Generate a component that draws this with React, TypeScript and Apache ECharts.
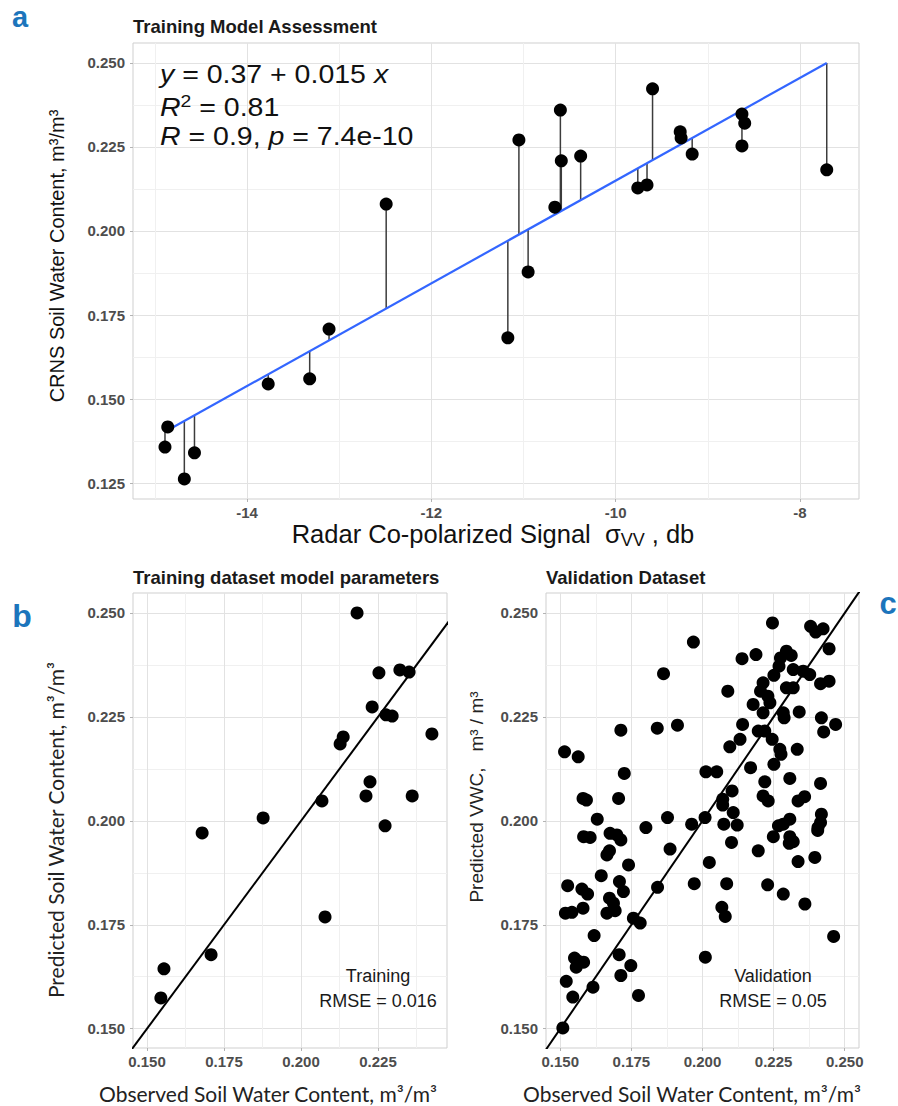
import React, { useEffect, useRef } from "react";
import * as echarts from "echarts";

// ---------- Panel a: training model assessment ----------
const radarSignal = [
  -14.86, -14.89, -14.68, -14.57, -13.77, -13.32, -13.11, -12.49, -11.17, -10.95,
  -11.05, -10.6, -10.59, -10.66, -10.38, -9.6, -9.76, -9.66, -9.3, -9.29,
  -9.17, -8.63, -8.6, -8.63, -7.71,
];
const crnsSwc = [
  0.1417, 0.1357, 0.1262, 0.134, 0.1545, 0.156, 0.1708, 0.208, 0.1682, 0.1878,
  0.2271, 0.236, 0.2209, 0.2071, 0.2223, 0.2423, 0.2128, 0.2137, 0.2295, 0.2277,
  0.2229, 0.2348, 0.2321, 0.2253, 0.2182,
];
const fitIntercept = 0.3679;
const fitSlope = 0.01529;

// ---------- Panel b: training dataset ----------
const trainObserved = [
  0.2182, 0.2253, 0.2321, 0.2351, 0.2231, 0.2276, 0.2296, 0.2137, 0.2127, 0.2425,
  0.2224, 0.2211, 0.2361, 0.2068, 0.1877, 0.2273, 0.1679, 0.2078, 0.1708, 0.1555,
  0.1545,
];
const trainPredicted = [
  0.25, 0.2356, 0.2363, 0.2358, 0.2274, 0.2255, 0.2252, 0.2202, 0.2185, 0.2209,
  0.2094, 0.206, 0.206, 0.2048, 0.2007, 0.1988, 0.1971, 0.1769, 0.1678, 0.1644,
  0.1574,
];

// ---------- Panel c: validation dataset ----------
const validObserved = [
  0.1515, 0.1563, 0.1713, 0.1725, 0.158, 0.1592, 0.1705, 0.163, 0.1801, 0.1877,
  0.1863, 0.1841, 0.1912, 0.1968, 0.1962, 0.2009, 0.2012, 0.205, 0.2071, 0.2071,
  0.2075, 0.2104, 0.2108, 0.2122, 0.2089, 0.2096, 0.2132, 0.2141, 0.2139, 0.2188,
  0.2169, 0.2178, 0.2204, 0.2213, 0.2196, 0.2219, 0.2213, 0.2237, 0.2246, 0.2251,
  0.2269, 0.2274, 0.2295, 0.2312, 0.2245, 0.2272, 0.2251, 0.2219, 0.2213, 0.2231,
  0.2284, 0.2287, 0.2295, 0.2319, 0.2319, 0.2354, 0.2377, 0.234, 0.2333, 0.2307,
  0.2336, 0.2359, 0.238, 0.2398, 0.2424, 0.2445, 0.2415, 0.2445, 0.2418, 0.2426,
  0.2468, 0.2415, 0.2418, 0.2415, 0.2267, 0.2307, 0.2284, 0.2406, 0.2276, 0.223,
  0.2405,
  0.1582, 0.1605, 0.1675, 0.1699, 0.1713, 0.2249, 0.2307, 0.2319, 0.2305, 0.2102,
  0.1664, 0.1673, 0.174, 0.1886, 0.2024, 0.2196, 0.2336, 0.2395, 0.1644, 0.1526,
  0.1576, 0.1596, 0.1708, 0.1722, 0.1842, 0.1971, 0.2085, 0.2229, 0.2284, 0.236,
  0.1518, 0.1541, 0.158, 0.1673, 0.1687, 0.1664, 0.1693, 0.2068, 0.208, 0.1757,
  0.1781, 0.1619, 0.2461, 0.155, 0.1564, 0.1582, 0.1556, 0.1707, 0.1748, 0.1713,
  0.201, 0.1521, 0.1615, 0.1544, 0.1775, 0.1509,
];
const validPredicted = [
  0.2166, 0.2154, 0.2218, 0.2114, 0.2054, 0.205, 0.2054, 0.2004, 0.1984, 0.2008,
  0.2354, 0.2223, 0.223, 0.243, 0.1992, 0.2008, 0.2118, 0.2118, 0.2052, 0.2038,
  0.1992, 0.2072, 0.202, 0.199, 0.2312, 0.2178, 0.2196, 0.2232, 0.239, 0.24,
  0.2128, 0.228, 0.2312, 0.2332, 0.2216, 0.2216, 0.226, 0.2284, 0.2476, 0.235,
  0.2372, 0.2392, 0.2408, 0.2398, 0.2196, 0.2172, 0.2136, 0.2094, 0.206, 0.2048,
  0.226, 0.2248, 0.232, 0.232, 0.2364, 0.236, 0.2352, 0.2262, 0.2172, 0.2102,
  0.2048, 0.2058, 0.2468, 0.2454, 0.2462, 0.2414, 0.233, 0.2336, 0.2248, 0.2214,
  0.2232, 0.209, 0.2016, 0.1996, 0.1988, 0.2004, 0.1992, 0.1984, 0.216, 0.23,
  0.1977,
  0.1962, 0.196, 0.197, 0.1966, 0.1954, 0.1962, 0.1962, 0.195, 0.1946, 0.1948,
  0.1918, 0.1928, 0.1894, 0.1932, 0.19, 0.1928, 0.1902, 0.1912, 0.1868, 0.1844,
  0.1836, 0.1824, 0.1854, 0.183, 0.184, 0.1849, 0.1849, 0.1846, 0.1824, 0.18,
  0.1778, 0.178, 0.179, 0.1814, 0.1802, 0.1778, 0.1784, 0.1792, 0.177, 0.1766,
  0.1754, 0.1724, 0.1722, 0.167, 0.1662, 0.166, 0.1648, 0.1678, 0.1652, 0.1628,
  0.1672, 0.1614, 0.16, 0.1576, 0.158, 0.1502,
];

// ---------- Axis ranges and ticks ----------
const aXRange = [-15.237, -7.36];
const aYRange = [0.12024, 0.25595];
const aXMajor = [-14, -12, -10, -8];
const aXMinor = [-15, -13, -11, -9];
const aYMajor = [0.125, 0.15, 0.175, 0.2, 0.225, 0.25];
const aYMinor = [0.1375, 0.1625, 0.1875, 0.2125, 0.2375];

const bXRange = [0.14545, 0.2474];
const cXRange = [0.14498, 0.25502];
const bcYRange = [0.14536, 0.25481];
const bXMajor = [0.15, 0.175, 0.2, 0.225];
const cXMajor = [0.15, 0.175, 0.2, 0.225, 0.25];
const bcXMinor = [0.1625, 0.1875, 0.2125, 0.2375];
const bcYMajor = [0.15, 0.175, 0.2, 0.225, 0.25];
const bcYMinor = [0.1625, 0.1875, 0.2125, 0.2375];

const ARIAL = "'Liberation Sans', Arial, Helvetica, sans-serif";
const HUMAN = "Lato, 'Liberation Sans', sans-serif";

function axisPair(
  gridIndex: number,
  range: number[],
  major: number[],
  minor: number[],
  isX: boolean,
  fmt: (v: number) => string
) {
  return [
    {
      type: "value",
      gridIndex,
      min: range[0],
      max: range[1],
      position: isX ? "bottom" : "left",
      axisLine: { show: false },
      axisTick: {
        show: true,
        length: 3,
        inside: false,
        customValues: major,
        lineStyle: { color: "#b3b3b3", width: 1 },
      },
      axisLabel: {
        customValues: major,
        formatter: fmt,
        margin: isX ? 6 : 8,
        color: "#4d4d4d",
        fontWeight: "bold",
        fontSize: 15,
        fontFamily: ARIAL,
      },
      splitLine: { show: true, lineStyle: { color: "#e2e2e2", width: 1 } },
    },
    {
      type: "value",
      gridIndex,
      min: range[0],
      max: range[1],
      position: isX ? "top" : "right",
      axisLine: { show: false },
      axisTick: { show: false, customValues: minor },
      axisLabel: { show: false, customValues: minor },
      splitLine: { show: true, lineStyle: { color: "#f0f0f0", width: 1 } },
    },
  ];
}

function gtext(x: number, y: number, style: any, extra: any = {}) {
  return { type: "text", x, y, silent: true, z: 100, ...extra, style };
}

export default function App() {
  const ref = useRef<HTMLDivElement>(null);

  useEffect(() => {
    if (!ref.current) return;
    const chart = echarts.init(ref.current, undefined, { renderer: "svg" });

    const fit = (x: number) => fitIntercept + fitSlope * x;
    const xMin = Math.min(...radarSignal);
    const xMax = Math.max(...radarSignal);

    const fmtInt = (v: number) => String(Math.round(v));
    const fmt3 = (v: number) => v.toFixed(3);

    const xAxes = [
      ...axisPair(0, aXRange, aXMajor, aXMinor, true, fmtInt),
      ...axisPair(1, bXRange, bXMajor, bcXMinor, true, fmt3),
      ...axisPair(2, cXRange, cXMajor, bcXMinor, true, fmt3),
    ];
    const yAxes = [
      ...axisPair(0, aYRange, aYMajor, aYMinor, false, fmt3),
      ...axisPair(1, bcYRange, bcYMajor, bcYMinor, false, fmt3),
      ...axisPair(2, bcYRange, bcYMajor, bcYMinor, false, fmt3),
    ];

    const gridBase = {
      show: true,
      borderColor: "#cfcfcf",
      borderWidth: 1,
      backgroundColor: "transparent",
      containLabel: false,
    };

    const eq = { fontSize: 25, fontFamily: ARIAL, fill: "#111", lineHeight: 30 };
    const eqRich = {
      n: { ...eq },
      i: { ...eq, fontStyle: "italic" },
      s: { fontSize: 17, fontFamily: ARIAL, fill: "#111", lineHeight: 17, verticalAlign: "top" },
    };

    const xt = { fontSize: 25.5, fontFamily: ARIAL, fill: "#111", lineHeight: 30 };
    const xtRich = {
      n: { ...xt },
      sub: { fontSize: 18, fontFamily: ARIAL, fill: "#111", lineHeight: 18, verticalAlign: "bottom" },
    };

    const titleStyle = (text: string) => ({
      text,
      fontSize: 18.5,
      fontWeight: "bold",
      fontFamily: ARIAL,
      fill: "#1a1a1a",
      align: "left",
      verticalAlign: "middle",
    });
    const letterStyle = (text: string, size: number) => ({
      text,
      fontSize: size,
      fontWeight: "bold",
      fontFamily: ARIAL,
      fill: "#1c75bc",
      align: "center",
      verticalAlign: "middle",
    });
    const annot = (text: string) => ({
      text,
      fontSize: 18,
      fontFamily: ARIAL,
      fill: "#1a1a1a",
      align: "center",
      verticalAlign: "middle",
    });

    const graphics: any[] = [
      gtext(20, 17, letterStyle("a", 29)),
      gtext(22, 616, letterStyle("b", 32)),
      gtext(888, 603, letterStyle("c", 31)),
      gtext(133, 26, titleStyle("Training Model Assessment")),
      gtext(133, 577, titleStyle("Training dataset model parameters")),
      gtext(546, 577, titleStyle("Validation Dataset")),
      // regression equation
      gtext(
        160,
        75,
        {
          text: "{i|y}{n| = 0.37 + 0.015 }{i|x}",
          rich: eqRich,
          align: "left",
          verticalAlign: "middle",
        },
        { scaleX: 1.14 }
      ),
      gtext(
        160,
        108,
        {
          text: "{i|R}{s|2}{n| = 0.81}",
          rich: eqRich,
          align: "left",
          verticalAlign: "middle",
        },
        { scaleX: 1.14 }
      ),
      gtext(
        160,
        137,
        {
          text: "{i|R}{n| = 0.9, }{i|p}{n| = 7.4e-10}",
          rich: eqRich,
          align: "left",
          verticalAlign: "middle",
        },
        { scaleX: 1.14 }
      ),
      // axis titles panel a
      gtext(493, 534, {
        text: "{n|Radar Co-polarized Signal  σ}{sub|VV}{n| , db}",
        rich: xtRich,
        align: "center",
        verticalAlign: "middle",
      }),
      gtext(
        57,
        256,
        {
          text: "CRNS Soil Water Content, m³/m³",
          fontSize: 20,
          fontFamily: ARIAL,
          fill: "#111",
          align: "center",
          verticalAlign: "middle",
        },
        { rotation: Math.PI / 2 }
      ),
      // panel b titles
      gtext(
        55,
        830,
        {
          text: "Predicted Soil Water Content, m³/m³",
          fontSize: 21,
          fontFamily: HUMAN,
          fill: "#222",
          align: "center",
          verticalAlign: "middle",
        },
        { rotation: Math.PI / 2 }
      ),
      gtext(268, 1093, {
        text: "Observed Soil Water Content, m³/m³",
        fontSize: 21,
        fontFamily: HUMAN,
        fill: "#222",
        align: "center",
        verticalAlign: "middle",
      }),
      // panel c titles
      gtext(
        476,
        797,
        {
          text: "Predicted VWC,   m³ / m³",
          fontSize: 19,
          fontFamily: ARIAL,
          fill: "#222",
          align: "center",
          verticalAlign: "middle",
        },
        { rotation: Math.PI / 2 }
      ),
      gtext(692, 1093, {
        text: "Observed Soil Water Content, m³/m³",
        fontSize: 21,
        fontFamily: HUMAN,
        fill: "#222",
        align: "center",
        verticalAlign: "middle",
      }),
      // annotations
      gtext(378, 976, annot("Training")),
      gtext(378, 1001, annot("RMSE = 0.016")),
      gtext(773, 976, annot("Validation")),
      gtext(773, 1001, annot("RMSE = 0.05")),
    ];

    const dot = { color: "#000000", opacity: 1 };

    const option: any = {
      animation: false,
      backgroundColor: "#ffffff",
      grid: [
        { ...gridBase, left: 133, top: 43, width: 726, height: 456 },
        { ...gridBase, left: 133, top: 593, width: 314, height: 455 },
        { ...gridBase, left: 546, top: 593, width: 313, height: 455 },
      ],
      xAxis: xAxes,
      yAxis: yAxes,
      graphic: graphics,
      series: [
        {
          type: "custom",
          name: "residuals",
          xAxisIndex: 0,
          yAxisIndex: 0,
          silent: true,
          z: 1,
          data: radarSignal.map((x, i) => [x, crnsSwc[i], fit(x)]),
          encode: { x: 0, y: [1, 2] },
          renderItem: (_params: any, api: any) => {
            const x = api.value(0);
            const p1 = api.coord([x, api.value(1)]);
            const p2 = api.coord([x, api.value(2)]);
            return {
              type: "line",
              shape: { x1: p1[0], y1: p1[1], x2: p2[0], y2: p2[1] },
              style: { stroke: "#3c3c3c", lineWidth: 1.5 },
            };
          },
        },
        {
          type: "line",
          name: "fit",
          xAxisIndex: 0,
          yAxisIndex: 0,
          silent: true,
          z: 2,
          symbol: "none",
          data: [
            [xMin, fit(xMin)],
            [xMax, fit(xMax)],
          ],
          lineStyle: { color: "#3366ff", width: 2.2 },
        },
        {
          type: "scatter",
          name: "training points",
          xAxisIndex: 0,
          yAxisIndex: 0,
          silent: true,
          z: 3,
          symbolSize: 13,
          itemStyle: dot,
          data: radarSignal.map((x, i) => [x, crnsSwc[i]]),
        },
        {
          type: "line",
          name: "1:1 training",
          xAxisIndex: 2,
          yAxisIndex: 2,
          silent: true,
          z: 2,
          symbol: "none",
          clip: true,
          data: [
            [bcYRange[0] - 0.01, bcYRange[0] - 0.01],
            [bcYRange[1] + 0.01, bcYRange[1] + 0.01],
          ],
          lineStyle: { color: "#000000", width: 2 },
        },
        {
          type: "scatter",
          name: "training",
          xAxisIndex: 2,
          yAxisIndex: 2,
          silent: true,
          z: 3,
          symbolSize: 13,
          itemStyle: dot,
          data: trainObserved.map((x, i) => [x, trainPredicted[i]]),
        },
        {
          type: "line",
          name: "1:1 validation",
          xAxisIndex: 4,
          yAxisIndex: 4,
          silent: true,
          z: 2,
          symbol: "none",
          clip: true,
          data: [
            [bcYRange[0] - 0.01, bcYRange[0] - 0.01],
            [bcYRange[1] + 0.01, bcYRange[1] + 0.01],
          ],
          lineStyle: { color: "#000000", width: 2 },
        },
        {
          type: "scatter",
          name: "validation",
          xAxisIndex: 4,
          yAxisIndex: 4,
          silent: true,
          z: 3,
          symbolSize: 13,
          itemStyle: dot,
          data: validObserved.map((x, i) => [x, validPredicted[i]]),
        },
      ],
    };

    chart.setOption(option);
    return () => chart.dispose();
  }, []);

  return (
    <div
      ref={ref}
      style={{ position: "absolute", left: 0, top: 0, width: 898, height: 1106, background: "#fff" }}
    />
  );
}
